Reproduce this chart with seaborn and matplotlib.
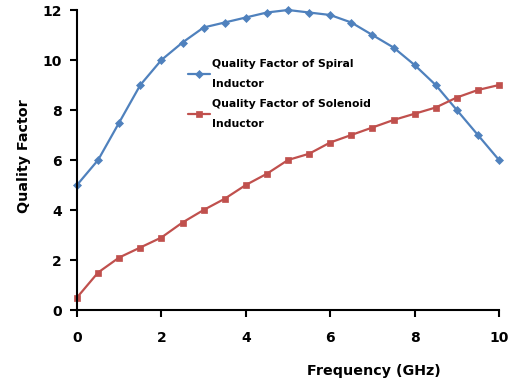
import matplotlib
matplotlib.use("Agg")
import matplotlib.pyplot as plt
import seaborn as sns
import pandas as pd

freq = [0, 0.5, 1, 1.5, 2, 2.5, 3, 3.5, 4, 4.5, 5, 5.5, 6, 6.5, 7, 7.5, 8, 8.5, 9, 9.5, 10]
spiral = [5, 6, 7.5, 9, 10, 10.7, 11.3, 11.5, 11.7, 11.9, 12, 11.9, 11.8, 11.5, 11, 10.5, 9.8, 9, 8, 7, 6]
solenoid = [0.5, 1.5, 2.1, 2.5, 2.9, 3.5, 4, 4.45, 5, 5.45, 6, 6.25, 6.7, 7, 7.3, 7.6, 7.85, 8.1, 8.5, 8.8, 9]
labels = ["Quality Factor of Spiral\nInductor", "Quality Factor of Solenoid\nInductor"]

sns.set_style("white")
plt.rcParams['font.family'] = ['DejaVu Sans']
plt.rcParams['text.color'] = 'black'
plt.rcParams['axes.labelcolor'] = 'black'
plt.rcParams['xtick.color'] = 'black'
plt.rcParams['ytick.color'] = 'black'

fig = plt.figure(figsize=(5.12, 3.85), dpi=100)
ax = fig.add_axes([77/512, 1-310/385, 422/512, 300/385])

df1 = pd.DataFrame({"f": freq, "q": spiral})
df2 = pd.DataFrame({"f": freq, "q": solenoid})
sns.lineplot(data=df1, x="f", y="q", ax=ax, color="#4F81BD", marker="D", markersize=3.6,
             markeredgecolor="#4F81BD", markeredgewidth=0.5, linewidth=1.6,
             label=labels[0], clip_on=False)
sns.lineplot(data=df2, x="f", y="q", ax=ax, color="#C0504D", marker="s", markersize=4.8,
             markeredgecolor="#C0504D", markeredgewidth=0.5, linewidth=1.6,
             label=labels[1], clip_on=False)

ax.set_xlim(0, 10)
ax.set_ylim(0, 12)
ax.set_xticks([0, 2, 4, 6, 8, 10])
ax.set_yticks([0, 2, 4, 6, 8, 10, 12])
ax.tick_params(axis='both', direction='out', length=5, width=1.5, color='black',
               labelsize=10, bottom=True, left=True, labelcolor='black')
ax.tick_params(axis='x', pad=10)
ax.tick_params(axis='y', pad=6)
for lab in ax.get_xticklabels() + ax.get_yticklabels():
    lab.set_fontweight('bold')
for s in ['top', 'right']:
    ax.spines[s].set_visible(False)
for s in ['left', 'bottom']:
    ax.spines[s].set_color('black')
    ax.spines[s].set_linewidth(1.5)

ax.set_xlabel("Frequency (GHz)", fontsize=10.3, fontweight='bold', color='black')
ax.xaxis.set_label_coords(0.704, -0.18)
ax.set_ylabel("Quality Factor", fontsize=10.3, fontweight='bold', color='black')
ax.yaxis.set_label_coords(-0.11, 0.513)

leg = ax.legend(loc='upper left', bbox_to_anchor=(0.24, 0.868), frameon=False,
                fontsize=7.8, handlelength=2.0, handletextpad=0.2, labelspacing=0.95)
for t in leg.get_texts():
    t.set_fontweight('bold')
    t.set_color('black')
    t.set_linespacing(2.2)

fig.savefig("out.png", dpi=100)
